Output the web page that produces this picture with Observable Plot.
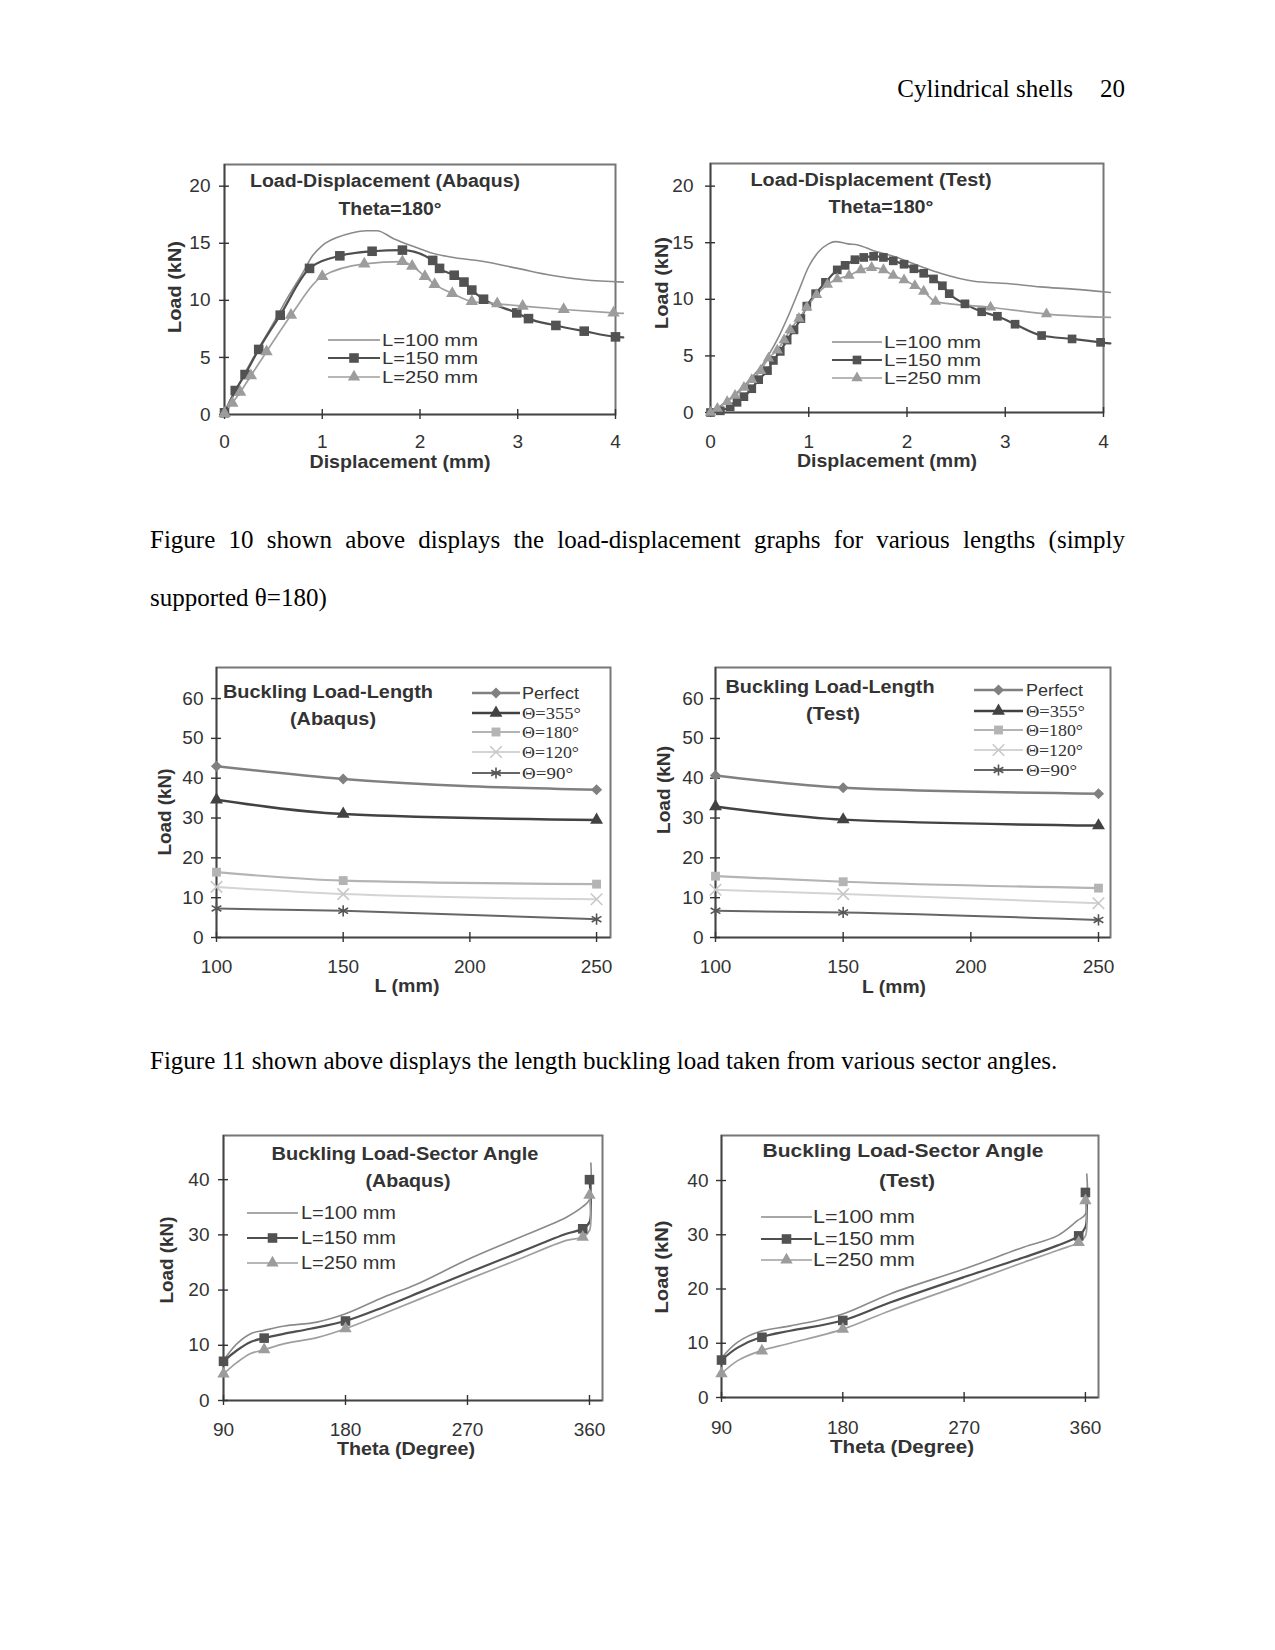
<!DOCTYPE html>
<html>
<head>
<meta charset="utf-8">
<script src="https://cdn.jsdelivr.net/npm/d3@7"></script>
<script src="https://cdn.jsdelivr.net/npm/@observablehq/plot@0.6"></script>
<style>
html, body { margin: 0; padding: 0; background: #fff; }
#page { position: relative; width: 1275px; height: 1650px; background: #fff; overflow: hidden;
  font-family: "Liberation Serif", "Times New Roman", serif; color: #000; }
.t { position: absolute; font-size: 25px; line-height: 58px; white-space: nowrap; }
.para { position: absolute; left: 150px; width: 975px; font-size: 25px; line-height: 58px; text-align: justify; }
</style>
</head>
<body>
<div id="page">
  <div class="t" style="right:202px; top:60px;">Cylindrical shells</div>
  <div class="t" style="right:150px; top:60px;">20</div>
  <div class="para" style="top:511px;">Figure 10 shown above displays the load-displacement graphs for various lengths (simply supported θ=180)</div>
  <div class="para" style="top:1032px;">Figure 11 shown above displays the length buckling load taken from various sector angles.</div>
</div>
<script>
// ===================== DATA =====================
// Figure 10: load-displacement, Theta = 180°
const ldTicksX = [0, 1, 2, 3, 4];
const ldTicksY = [0, 5, 10, 15, 20];
const ldLabels = ["L=100 mm", "L=150 mm", "L=250 mm"];

const abaqusDispL100 = [[0,0],[0.1,1.8],[0.2,3.5],[0.35,5.8],[0.5,8.0],[0.65,10.3],[0.8,12.4],[0.9,13.9],[1.0,14.8],[1.15,15.5],[1.3,15.9],[1.45,16.1],[1.56,16.1],[1.73,15.4],[1.97,14.6],[2.1,14.2],[2.31,13.8],[2.65,13.4],[3.0,12.8],[3.34,12.2],[3.68,11.8],[4.08,11.6]];
const abaqusDispL150 = [[0,0.15],[0.11,2.1],[0.21,3.5],[0.35,5.7],[0.57,8.7],[0.87,12.8],[1.18,13.9],[1.51,14.3],[1.82,14.4],[2.13,13.5],[2.2,12.8],[2.35,12.2],[2.45,11.6],[2.53,10.9],[2.65,10.1],[2.99,8.9],[3.11,8.4],[3.39,7.8],[3.68,7.3],[4.0,6.8],[4.08,6.75]];
const abaqusDispL250 = [[0,0.1],[0.08,1.0],[0.16,1.95],[0.27,3.4],[0.43,5.5],[0.68,8.7],[1.0,12.1],[1.43,13.2],[1.82,13.4],[1.92,13.0],[2.05,12.1],[2.15,11.4],[2.33,10.6],[2.53,9.9],[2.79,9.7],[3.05,9.5],[3.47,9.2],[3.98,8.9],[4.08,8.85]];

const testDispL100 = [[0,0],[0.15,0.9],[0.3,2.0],[0.45,3.4],[0.52,4.1],[0.6,5.2],[0.7,6.8],[0.8,8.7],[0.9,10.8],[1.0,12.9],[1.1,14.2],[1.2,14.9],[1.27,15.1],[1.4,14.9],[1.5,14.8],[1.66,14.3],[1.86,13.8],[2.14,12.9],[2.34,12.3],[2.68,11.6],[3.02,11.4],[3.36,11.1],[3.69,10.9],[4.07,10.6]];
const testDispL150 = [[0,0],[0.1,0.15],[0.2,0.5],[0.27,0.9],[0.34,1.4],[0.42,2.1],[0.49,2.9],[0.58,3.7],[0.64,4.6],[0.71,5.4],[0.78,6.4],[0.85,7.3],[0.92,8.3],[0.98,9.4],[1.07,10.5],[1.17,11.5],[1.29,12.6],[1.37,13.0],[1.47,13.5],[1.56,13.7],[1.66,13.8],[1.76,13.7],[1.86,13.4],[1.97,13.1],[2.07,12.7],[2.17,12.3],[2.27,11.8],[2.36,11.2],[2.43,10.5],[2.59,9.6],[2.76,8.9],[2.92,8.5],[3.1,7.8],[3.37,6.8],[3.68,6.5],[3.97,6.2],[4.07,6.1]];
const testDispL250 = [[0,0],[0.07,0.35],[0.17,0.95],[0.25,1.5],[0.34,2.2],[0.42,2.9],[0.51,3.7],[0.59,4.8],[0.68,5.5],[0.75,6.4],[0.81,7.3],[0.9,8.3],[0.98,9.3],[1.08,10.4],[1.19,11.3],[1.29,11.8],[1.41,12.1],[1.53,12.6],[1.64,12.8],[1.76,12.6],[1.86,12.1],[1.97,11.7],[2.08,11.2],[2.17,10.7],[2.29,9.8],[2.85,9.3],[3.42,8.7],[4.07,8.4]];

// Figure 11: buckling load vs length
const lengthsMM = [100, 150, 250];
const lenTicksX = [100, 150, 200, 250];
const lenTicksY = [0, 10, 20, 30, 40, 50, 60];
const lenLabels = ["Perfect", "Θ=355°", "Θ=180°", "Θ=120°", "Θ=90°"];
const abaqusPerfect = [43.0, 39.8, 37.1];
const abaqusT355 = [34.6, 31.0, 29.5];
const abaqusT180 = [16.4, 14.3, 13.4];
const abaqusT120 = [12.7, 10.9, 9.6];
const abaqusT90 = [7.3, 6.7, 4.6];
const testPerfect = [40.7, 37.6, 36.1];
const testT355 = [32.9, 29.6, 28.1];
const testT180 = [15.4, 14.0, 12.4];
const testT120 = [12.0, 10.9, 8.6];
const testT90 = [6.7, 6.3, 4.4];

// Buckling load vs sector angle: marker values
const sectorAngles = [90, 120, 180, 355, 360];
const secTicksX = [90, 180, 270, 360];
const secTicksY = [0, 10, 20, 30, 40];
const abaqusSecL150 = [7.1, 11.3, 14.4, 31.1, 40.0];
const abaqusSecL250 = [4.8, 9.2, 13.0, 29.6, 37.2];
const testSecL150 = [6.9, 11.1, 14.2, 29.8, 37.8];
const testSecL250 = [4.4, 8.6, 12.6, 28.6, 36.3];
// Buckling load vs sector angle: curves
const abaqusSecCurveL100 = [[90,7.3],[100,10.3],[110,12.1],[120,12.7],[135,13.5],[159,14.2],[180,15.7],[208,18.7],[233,21.1],[269,25.4],[306,29.3],[343,33.2],[355,35.1],[360,36.4],[361,43.0]];
const abaqusSecCurveL150 = [[90,7.1],[100,9.1],[110,10.6],[120,11.3],[135,12.1],[154,13.0],[180,14.4],[208,16.9],[238,19.9],[269,23.0],[306,26.6],[343,30.2],[355,31.1],[360,32.3],[361,35.6],[360,40.0]];
const abaqusSecCurveL250 = [[90,4.8],[100,6.9],[110,8.5],[120,9.2],[135,10.3],[159,11.4],[180,13.0],[208,15.7],[238,18.7],[269,21.8],[306,25.4],[343,29.0],[355,29.6],[360,30.8],[361,33.8],[360,37.2]];
const testSecCurveL100 = [[90,7.3],[102,10.2],[119,12.2],[141,13.2],[180,15.4],[215,19.1],[270,23.7],[314,27.7],[339,29.8],[354,32.6],[360,33.8],[361,41.2]];
const testSecCurveL150 = [[90,6.9],[102,9.2],[119,11.1],[141,12.3],[180,14.2],[215,17.5],[270,22.2],[314,25.8],[339,28.0],[355,29.8],[360,31.4],[361,34.5],[360,37.8]];
const testSecCurveL250 = [[90,4.4],[102,6.8],[119,8.6],[141,10.0],[180,12.6],[215,16.0],[270,20.9],[314,24.9],[339,27.1],[355,28.6],[360,29.8],[361,33.2],[360,36.3]];

// ===================== STYLES =====================
const SANS = "'Liberation Sans', Arial, Helvetica, sans-serif";
const SERIF = "'Liberation Serif', 'Times New Roman', serif";
const SYM = {square: d3.symbolSquare, triangle: d3.symbolTriangle, diamond2: d3.symbolDiamond2, times: d3.symbolTimes, asterisk: d3.symbolAsterisk};
const stL100 = {stroke: "#8a8a8a", width: 1.6};
const stL150 = {stroke: "#4f4f4f", width: 2.2, symbol: "square", fill: "#525252", r: 5.4};
const stL250 = {stroke: "#9f9f9f", width: 1.7, symbol: "triangle", fill: "#9c9c9c", r: 4.6};
const stL150s = {...stL150, r: 4.9};
const stL250s = {...stL250, r: 4.2};
const stPerfect = {stroke: "#808080", width: 2.5, symbol: "diamond2", fill: "#808080", r: 5.0};
const st355 = {stroke: "#424242", width: 2.5, symbol: "triangle", fill: "#424242", r: 4.8};
const st180 = {stroke: "#b4b4b4", width: 2.2, symbol: "square", fill: "#b4b4b4", r: 5.0};
const st120 = {stroke: "#d4d4d4", width: 2.0, symbol: "times", line: "#c8c8c8", r: 5.3};
const st90 = {stroke: "#666666", width: 2.0, symbol: "asterisk", line: "#555555", r: 5.3};

const pairs = (xs, ys) => xs.map((x, i) => [x, ys[i]]);

// stretched text helper (the source figure's type is slightly widened)
function stretch(sel, w) {
  if (w) sel.attr("textLength", w).attr("lengthAdjust", "spacingAndGlyphs");
  return sel;
}

// ===================== CHART BUILDER =====================
function buildChart(cfg) {
  const M = {left: 80, right: 30, top: 20, bottom: 75};
  const [fx0, fy0, fx1, fy1] = cfg.frame;
  const fw = fx1 - fx0, fh = fy1 - fy0;
  const marks = [
    Plot.frame({stroke: "#777", strokeWidth: 2}),
    Plot.ruleX([cfg.xDomain[0]], {stroke: "#444", strokeWidth: 1.6}),
    Plot.ruleY([cfg.yDomain[0]], {stroke: "#444", strokeWidth: 1.6}),
    Plot.axisY(cfg.yTicks, {anchor: "left", tickSize: 10, tickPadding: cfg.yPad, dx: 5, strokeWidth: 1.4, label: null}),
    Plot.axisX(cfg.xTicks, {anchor: "bottom", tickSize: 10, tickPadding: cfg.xPad, dy: -5, strokeWidth: 1.4, label: null})
  ];
  for (const s of cfg.series) {
    marks.push(Plot.line(s.line, {x: d => d[0], y: d => d[1], stroke: s.style.stroke, strokeWidth: s.style.width, curve: cfg.curve}));
  }
  for (const s of cfg.series) {
    const st = s.style;
    if (!st.symbol) continue;
    const pts = (s.markers || s.line).filter(d => d[0] <= cfg.xDomain[1] + 1e-9);
    if (st.fill) {
      marks.push(Plot.dot(pts, {x: d => d[0], y: d => d[1], symbol: st.symbol, r: st.r, fill: st.fill, stroke: "none"}));
    } else {
      marks.push(Plot.dot(pts, {x: d => d[0], y: d => d[1], symbol: st.symbol, r: st.r, fill: "none", stroke: st.line, strokeWidth: 1.6}));
    }
  }
  // titles, legend and axis labels, positioned relative to the frame
  marks.push(() => {
    const g = d3.create("svg:g").attr("transform", `translate(${M.left},${M.top})`).attr("fill", "#333");
    for (const t of cfg.titles) {
      stretch(g.append("text").attr("x", t.x).attr("y", t.y).attr("text-anchor", "middle")
        .attr("font-weight", "bold").attr("font-size", 17.5).text(t.text), t.w);
    }
    stretch(g.append("text").attr("x", cfg.xLabel.x).attr("y", fh + cfg.xLabel.dy).attr("text-anchor", "middle")
      .attr("font-weight", "bold").attr("font-size", 18.5).text(cfg.xLabel.text), cfg.xLabel.w);
    stretch(g.append("text").attr("transform", `translate(${cfg.yLabel.x},${cfg.yLabel.y}) rotate(-90)`)
      .attr("text-anchor", "middle").attr("dy", "0.35em").attr("font-weight", "bold").attr("font-size", 17.5).text(cfg.yLabel.text), cfg.yLabel.w);
    const lg = cfg.legend;
    cfg.series.forEach((s, i) => {
      const y = lg.rows[i], st = s.style;
      g.append("line").attr("x1", lg.x1).attr("x2", lg.x2).attr("y1", y).attr("y2", y)
        .attr("stroke", st.stroke).attr("stroke-width", st.width);
      if (st.symbol) {
        const p = g.append("path").attr("transform", `translate(${(lg.x1 + lg.x2) / 2},${y})`)
          .attr("d", d3.symbol(SYM[st.symbol], Math.PI * st.r * st.r)());
        if (st.fill) p.attr("fill", st.fill);
        else p.attr("fill", "none").attr("stroke", st.line).attr("stroke-width", 1.6);
      }
      stretch(g.append("text").attr("x", lg.tx).attr("y", y).attr("dy", "0.35em").attr("text-anchor", "start")
        .attr("font-family", s.serif ? SERIF : SANS).attr("font-size", s.serif ? lg.fsSerif : lg.fs).text(s.label), lg.w ? lg.w[i] : null);
    });
    return g.node();
  });

  const svg = Plot.plot({
    width: fw + M.left + M.right,
    height: fh + M.top + M.bottom,
    marginLeft: M.left, marginRight: M.right, marginTop: M.top, marginBottom: M.bottom,
    x: {domain: cfg.xDomain},
    y: {domain: cfg.yDomain},
    style: {background: "transparent", overflow: "visible", fontFamily: SANS, fontSize: "19px", color: "#333",
            position: "absolute", left: (fx0 - M.left) + "px", top: (fy0 - M.top) + "px", maxWidth: "none"},
    marks
  });
  document.getElementById("page").appendChild(svg);
}

// ===================== CHARTS =====================
buildChart({
  frame: [224, 164, 615, 414], xDomain: [0, 4], yDomain: [0, 21.9], curve: "monotone-x",
  xTicks: ldTicksX, yTicks: ldTicksY, xPad: 14.5, yPad: 9,
  titles: [{text: "Load-Displacement (Abaqus)", x: 161, y: 23, w: 270}, {text: "Theta=180°", x: 166, y: 51, w: 103}],
  xLabel: {text: "Displacement (mm)", x: 176, dy: 54, w: 181}, yLabel: {text: "Load (kN)", x: -49, y: 123, w: 92},
  legend: {x1: 104, x2: 156, tx: 158, rows: [176, 194, 213], fs: 16.5, w: [96, 96, 96]},
  series: [
    {label: ldLabels[0], line: abaqusDispL100, style: stL100},
    {label: ldLabels[1], line: abaqusDispL150, style: stL150},
    {label: ldLabels[2], line: abaqusDispL250, style: stL250}
  ]
});

buildChart({
  frame: [710, 163, 1103, 412], xDomain: [0, 4], yDomain: [0, 22], curve: "monotone-x",
  xTicks: ldTicksX, yTicks: ldTicksY, xPad: 16.5, yPad: 12,
  titles: [{text: "Load-Displacement (Test)", x: 161, y: 23, w: 241}, {text: "Theta=180°", x: 171, y: 50, w: 105}],
  xLabel: {text: "Displacement (mm)", x: 177, dy: 55, w: 180}, yLabel: {text: "Load (kN)", x: -48, y: 120, w: 92},
  legend: {x1: 122, x2: 172, tx: 174, rows: [179, 197, 215], fs: 16.5, w: [97, 97, 97]},
  series: [
    {label: ldLabels[0], line: testDispL100, style: stL100},
    {label: ldLabels[1], line: testDispL150, style: stL150s},
    {label: ldLabels[2], line: testDispL250, style: stL250s}
  ]
});

buildChart({
  frame: [216, 667, 610, 937], xDomain: [100, 255.5], yDomain: [0, 67.8], curve: "monotone-x",
  xTicks: lenTicksX, yTicks: lenTicksY, xPad: 16.5, yPad: 8,
  titles: [{text: "Buckling Load-Length", x: 112, y: 31, w: 210}, {text: "(Abaqus)", x: 117, y: 58, w: 86}],
  xLabel: {text: "L (mm)", x: 191, dy: 55, w: 65}, yLabel: {text: "Load (kN)", x: -51, y: 145, w: 87},
  legend: {x1: 256, x2: 304, tx: 306, rows: [26, 46, 65, 85, 106], fs: 16, fsSerif: 17, w: [57, 59, 57, 57, 51]},
  series: [
    {label: lenLabels[0], line: pairs(lengthsMM, abaqusPerfect), style: stPerfect},
    {label: lenLabels[1], line: pairs(lengthsMM, abaqusT355), style: st355, serif: true},
    {label: lenLabels[2], line: pairs(lengthsMM, abaqusT180), style: st180, serif: true},
    {label: lenLabels[3], line: pairs(lengthsMM, abaqusT120), style: st120, serif: true},
    {label: lenLabels[4], line: pairs(lengthsMM, abaqusT90), style: st90, serif: true}
  ]
});

buildChart({
  frame: [715, 667, 1110, 937], xDomain: [100, 254.7], yDomain: [0, 67.8], curve: "monotone-x",
  xTicks: lenTicksX, yTicks: lenTicksY, xPad: 16.5, yPad: 7,
  titles: [{text: "Buckling Load-Length", x: 115, y: 26, w: 209}, {text: "(Test)", x: 118, y: 53, w: 54}],
  xLabel: {text: "L (mm)", x: 179, dy: 56, w: 64}, yLabel: {text: "Load (kN)", x: -51, y: 123, w: 88},
  legend: {x1: 259, x2: 308, tx: 311, rows: [23, 44, 63, 83, 103], fs: 16, fsSerif: 17, w: [57, 59, 57, 57, 51]},
  series: [
    {label: lenLabels[0], line: pairs(lengthsMM, testPerfect), style: stPerfect},
    {label: lenLabels[1], line: pairs(lengthsMM, testT355), style: st355, serif: true},
    {label: lenLabels[2], line: pairs(lengthsMM, testT180), style: st180, serif: true},
    {label: lenLabels[3], line: pairs(lengthsMM, testT120), style: st120, serif: true},
    {label: lenLabels[4], line: pairs(lengthsMM, testT90), style: st90, serif: true}
  ]
});

buildChart({
  frame: [223, 1135, 602, 1400], xDomain: [90, 369.6], yDomain: [0, 48], curve: "catmull-rom",
  xTicks: secTicksX, yTicks: secTicksY, xPad: 16.5, yPad: 9,
  titles: [{text: "Buckling Load-Sector Angle", x: 182, y: 25, w: 267}, {text: "(Abaqus)", x: 185, y: 52, w: 85}],
  xLabel: {text: "Theta (Degree)", x: 183, dy: 55, w: 138}, yLabel: {text: "Load (kN)", x: -56, y: 125, w: 87},
  legend: {x1: 24, x2: 75, tx: 78, rows: [78, 103, 128], fs: 17.5, w: [95, 95, 95]},
  series: [
    {label: ldLabels[0], line: abaqusSecCurveL100, style: stL100},
    {label: ldLabels[1], line: abaqusSecCurveL150, markers: pairs(sectorAngles, abaqusSecL150), style: stL150},
    {label: ldLabels[2], line: abaqusSecCurveL250, markers: pairs(sectorAngles, abaqusSecL250), style: stL250}
  ]
});

buildChart({
  frame: [721, 1135, 1098, 1397], xDomain: [90, 369.7], yDomain: [0, 48.3], curve: "catmull-rom",
  xTicks: secTicksX, yTicks: secTicksY, xPad: 17.5, yPad: 8,
  titles: [{text: "Buckling Load-Sector Angle", x: 182, y: 22, w: 281}, {text: "(Test)", x: 186, y: 52, w: 56}],
  xLabel: {text: "Theta (Degree)", x: 181, dy: 56, w: 144}, yLabel: {text: "Load (kN)", x: -59, y: 132, w: 93},
  legend: {x1: 40, x2: 91, tx: 92, rows: [82, 104, 125], fs: 17.5, w: [102, 102, 102]},
  series: [
    {label: ldLabels[0], line: testSecCurveL100, style: stL100},
    {label: ldLabels[1], line: testSecCurveL150, markers: pairs(sectorAngles, testSecL150), style: stL150},
    {label: ldLabels[2], line: testSecCurveL250, markers: pairs(sectorAngles, testSecL250), style: stL250}
  ]
});
</script>
</body>
</html>
